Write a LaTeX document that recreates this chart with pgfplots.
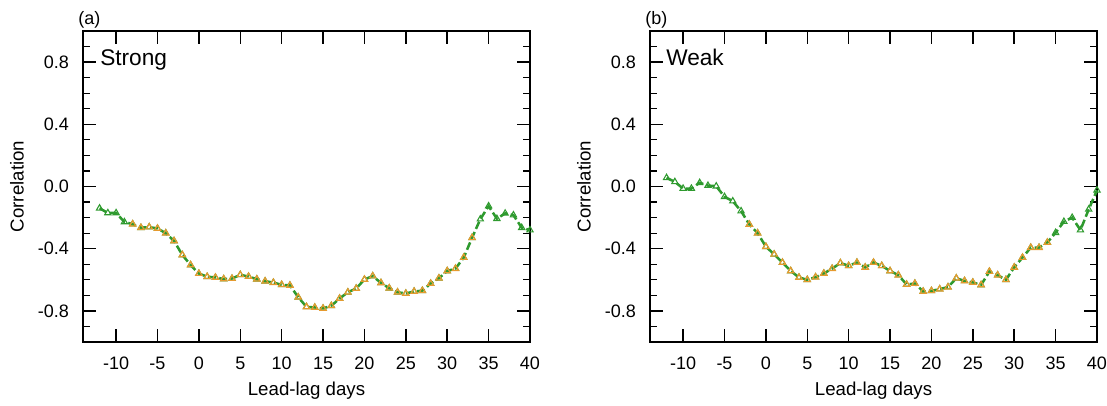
\documentclass[border=0pt]{standalone}
\usepackage{pgfplots}
\pgfplotsset{compat=1.18}
\usepackage{pgfplotstable}
\usepackage{fontspec}
\setmainfont{Liberation Sans}
\definecolor{lnGreen}{HTML}{2E9A2E}
\definecolor{sigOrange}{HTML}{E69A2E}

\pgfplotstableread{
x y s
-12 -0.140 0
-11 -0.170 0
-10 -0.170 0
-9 -0.228 0
-8 -0.242 1
-7 -0.265 1
-6 -0.261 1
-5 -0.270 1
-4 -0.300 1
-3 -0.350 1
-2 -0.440 1
-1 -0.505 1
0 -0.560 1
1 -0.580 1
2 -0.585 1
3 -0.595 1
4 -0.592 1
5 -0.568 1
6 -0.579 1
7 -0.596 1
8 -0.609 1
9 -0.618 1
10 -0.632 1
11 -0.636 1
12 -0.712 1
13 -0.774 1
14 -0.778 1
15 -0.784 1
16 -0.767 1
17 -0.720 1
18 -0.680 1
19 -0.656 1
20 -0.598 1
21 -0.576 1
22 -0.620 1
23 -0.654 1
24 -0.680 1
25 -0.688 1
26 -0.675 1
27 -0.670 1
28 -0.624 1
29 -0.590 1
30 -0.543 1
31 -0.528 1
32 -0.457 1
33 -0.330 1
34 -0.210 0
35 -0.126 0
36 -0.207 0
37 -0.173 0
38 -0.184 0
39 -0.265 0
40 -0.280 0
}\strongtab

\pgfplotstableread{
x y s
-12 0.056 0
-11 0.030 0
-10 -0.013 0
-9 -0.013 0
-8 0.024 0
-7 0.006 0
-6 0.002 0
-5 -0.066 0
-4 -0.094 0
-3 -0.158 0
-2 -0.244 1
-1 -0.300 1
0 -0.387 1
1 -0.436 1
2 -0.489 1
3 -0.543 1
4 -0.585 1
5 -0.600 1
6 -0.583 1
7 -0.559 1
8 -0.528 1
9 -0.492 1
10 -0.510 1
11 -0.489 1
12 -0.520 1
13 -0.489 1
14 -0.510 1
15 -0.543 1
16 -0.570 1
17 -0.630 1
18 -0.624 1
19 -0.675 1
20 -0.671 1
21 -0.660 1
22 -0.647 1
23 -0.590 1
24 -0.607 1
25 -0.617 1
26 -0.633 1
27 -0.547 1
28 -0.570 1
29 -0.600 1
30 -0.520 1
31 -0.457 1
32 -0.393 1
33 -0.393 1
34 -0.360 1
35 -0.297 0
36 -0.226 0
37 -0.200 0
38 -0.280 0
39 -0.147 0
40 -0.024 0
}\weaktab

\pgfplotsset{
  panel/.style={
    scale only axis,
    width=335.25pt, height=233.25pt,
    anchor=south west,
    xmin=-14, xmax=40, ymin=-1, ymax=1,
    xtick={-10,-5,0,5,10,15,20,25,30,35,40},
    xticklabels={-10,-5,0,5,10,15,20,25,30,35,40},
    ytick={-0.8,-0.4,0,0.4,0.8},
    yticklabels={-0.8,-0.4,0.0,0.4,0.8},
    minor ytick={-0.9,-0.7,-0.6,-0.5,-0.3,-0.2,-0.1,0.1,0.2,0.3,0.5,0.6,0.7,0.9},
    tick align=inside,
    major tick length=9.5pt,
    minor tick length=5pt,
    tick style={black, line width=1.1pt},
    minor tick style={black, line width=0.9pt},
    axis line style={black, line width=1.4pt},
    ticklabel style={font=\fontsize{13.5}{16}\selectfont},
    yticklabel style={xshift=-7pt},
    xticklabel style={yshift=-8pt},
    clip=false,
  },
  corr/.style={lnGreen, line width=1.9pt, dash pattern=on 6pt off 2.5pt,
    mark=triangle, mark size=2.7pt,
    mark options={solid, lnGreen, line width=0.8pt}},
  sig/.style={only marks, mark=triangle, mark size=2.7pt,
    mark options={solid, sigOrange, line width=0.9pt}},
}

\begin{document}
\begin{tikzpicture}[x=0.75pt, y=0.75pt]
\path[use as bounding box] (0,0) rectangle (1107,405);

% 1 px of the reference = 0.75pt
\begin{axis}[panel, at={(62.25pt,47.25pt)}]
\addplot[corr] table[x=x, y=y] {\strongtab};
\addplot[sig, restrict expr to domain={\thisrow{s}}{0.5:1.5}] table[x=x, y=y] {\strongtab};
\end{axis}

\begin{axis}[panel, at={(487.5pt,47.25pt)}]
\addplot[corr] table[x=x, y=y] {\weaktab};
\addplot[sig, restrict expr to domain={\thisrow{s}}{0.5:1.5}] table[x=x, y=y] {\weaktab};
\end{axis}

% panel letters and titles
\node[anchor=base west, font=\fontsize{13.5}{16}\selectfont, inner sep=0] at (78,381) {(a)};
\node[anchor=base west, font=\fontsize{17}{20}\selectfont, inner sep=0] at (100,340) {Strong};
\node[anchor=base west, font=\fontsize{13.5}{16}\selectfont, inner sep=0] at (645,381) {(b)};
\node[anchor=base west, font=\fontsize{17}{20}\selectfont, inner sep=0] at (666,340) {Weak};

% axis titles
\node[rotate=90, font=\fontsize{14}{16}\selectfont] at (17,218.5) {Correlation};
\node[rotate=90, font=\fontsize{14}{16}\selectfont] at (584,218.5) {Correlation};
\node[font=\fontsize{14}{16}\selectfont] at (306.5,14) {Lead-lag days};
\node[font=\fontsize{14}{16}\selectfont] at (873.5,14) {Lead-lag days};
\end{tikzpicture}
\end{document}
